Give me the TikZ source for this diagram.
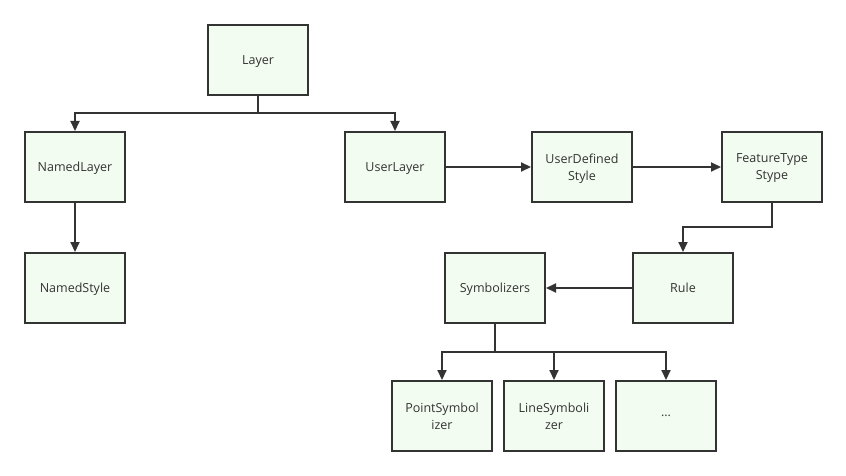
\documentclass[tikz,border=0pt]{standalone}
\usepackage{fontspec}
\setmainfont{Open Sans}
\usetikzlibrary{arrows.meta}
\definecolor{boxfill}{HTML}{F3FCF0}
\definecolor{boxline}{HTML}{333333}
\definecolor{txt}{HTML}{333333}
\begin{document}
\begin{tikzpicture}[x=1pt,y=-1pt,
  box/.style={draw=boxline,line width=2pt,fill=boxfill,minimum width=100pt,minimum height=70pt,inner sep=0pt,align=center,text=txt,text depth=0pt,font=\fontsize{12.5}{17}\selectfont},
  conn/.style={draw=boxline,line width=2pt,-{Triangle[length=10pt,width=9pt]}},
  plain/.style={draw=boxline,line width=2pt}]
\useasboundingbox (0,0) rectangle (846,476);
\node[box] (layer) at (258,60) {Layer};
\node[box] (nl) at (75,167) {NamedLayer};
\node[box] (ul) at (395,167) {UserLayer};
\node[box] (uds) at (582,167) {UserDefined\\Style};
\node[box] (fts) at (772,167) {FeatureType\\Stype};
\node[box] (ns) at (75,288) {NamedStyle};
\node[box] (sym) at (495,288) {Symbolizers};
\node[box] (rule) at (683,288) {Rule};
\node[box] (ps) at (442,416) {PointSymbol\\izer};
\node[box] (ls) at (554,416) {LineSymboli\\zer};
\node[box] (etc) at (666,416) {...};
\coordinate (bus1) at (258,113);
\coordinate (bus2) at (495,352);
\coordinate (bend) at (772,227);
\draw[plain] (layer.south) -- (bus1);
\draw[conn] (bus1) -| (nl.north);
\draw[conn] (bus1) -| (ul.north);
\draw[conn] (nl.south) -- (ns.north);
\draw[conn] (ul.east) -- (uds.west);
\draw[conn] (uds.east) -- (fts.west);
\draw[conn] (fts.south) -- (bend) -| (rule.north);
\draw[conn] (rule.west) -- (sym.east);
\draw[plain] (sym.south) -- (bus2);
\draw[conn] (bus2) -| (ps.north);
\draw[conn] (bus2) -| (ls.north);
\draw[conn] (bus2) -| (etc.north);
\end{tikzpicture}
\end{document}
